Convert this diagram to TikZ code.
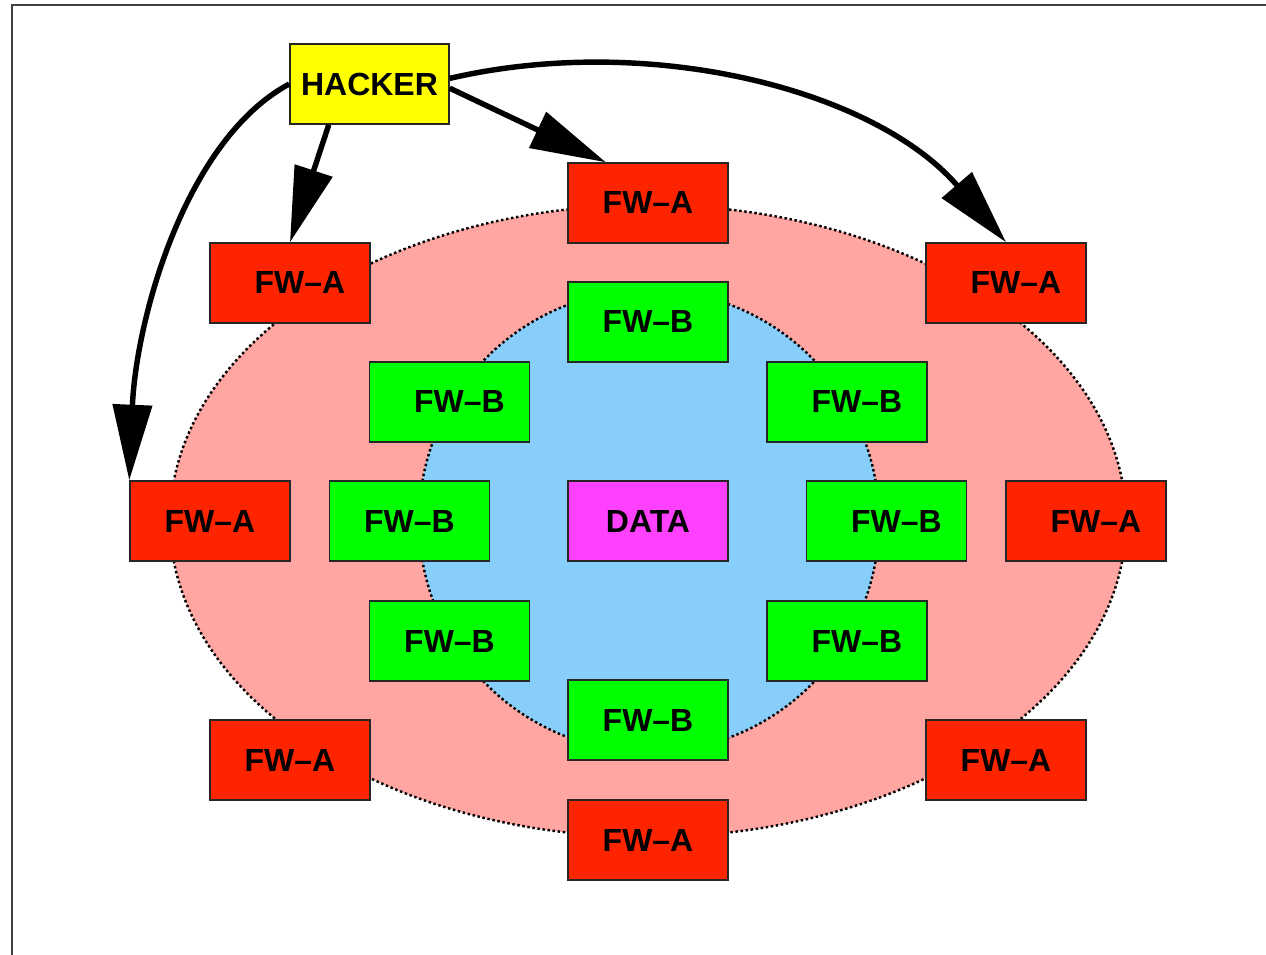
\documentclass[tikz,border=0pt]{standalone}
\usepackage{fontspec}
\setmainfont{Liberation Sans}
\usetikzlibrary{arrows.meta}

\definecolor{fwared}{RGB}{255,36,0}
\definecolor{fwbgreen}{RGB}{0,255,0}
\definecolor{hackyellow}{RGB}{255,255,0}
\definecolor{datapink}{RGB}{255,64,255}
\definecolor{outerzone}{RGB}{255,166,162}
\definecolor{innerzone}{RGB}{135,206,250}

\newcommand{\nudge}{\hspace*{11.3pt}}

\tikzset{
  box/.style={draw=black!85,line width=0.85pt,minimum width=3.2cm,minimum height=1.6cm,
    inner sep=0pt,font=\bfseries\fontsize{18.2}{20}\selectfont},
  fwa/.style={box,fill=fwared},
  fwb/.style={box,fill=fwbgreen},
  zone/.style={draw=black,line width=1.4pt,dash pattern=on 1.4pt off 1.5pt},
  attack/.style={line width=3.1pt,-{Triangle[length=43pt,width=22pt]}}
}

\begin{document}
\begin{tikzpicture}[x=0.02cm,y=-0.02cm]
            \useasboundingbox (0,0) rectangle (1266,955);
            \draw[black!75,line width=0.85pt] (12,955) -- (12,5) -- (1266,5);
            % zones
            \draw[zone,fill=outerzone] (648,521) ellipse [x radius=478,y radius=316];
            \draw[zone,fill=innerzone] (649,521) ellipse [x radius=230,y radius=231];
            % outer firewalls
            \node (a0) at (648,203) [fwa] {FW--A};
            \node (a1) at (290,283) [fwa] {\nudge FW--A};
            \node (a2) at (1006,283) [fwa] {\nudge FW--A};
            \node (a3) at (210,521) [fwa] {FW--A};
            \node (a4) at (1086,521) [fwa] {\nudge FW--A};
            \node (a5) at (290,760) [fwa] {FW--A};
            \node (a6) at (1006,760) [fwa] {FW--A};
            \node (a7) at (648,840) [fwa] {FW--A};
            % inner firewalls
            \node (b0) at (648,322) [fwb] {FW--B};
            \node (b1) at (449.5,402) [fwb] {\nudge FW--B};
            \node (b2) at (847,402) [fwb] {\nudge FW--B};
            \node (b3) at (409.5,521) [fwb] {FW--B};
            \node (b4) at (886.5,521) [fwb] {\nudge FW--B};
            \node (b5) at (449.5,641) [fwb] {FW--B};
            \node (b6) at (847,641) [fwb] {\nudge FW--B};
            \node (b7) at (648,720) [fwb] {FW--B};
            \node (data) at (648,521) [box,fill=datapink] {DATA};
            \node (hacker) at (369.5,84) [box,fill=hackyellow,minimum width=3.18cm] {HACKER};
            % attacks
            \draw[attack] (hacker.225) -- (a1.north);
            \draw[attack] (hacker.-3) -- (a0.136);
            \draw[attack] (hacker.4) .. controls (650,32) and (875,90) .. (a2.north);
            \draw[attack] (hacker.west) .. controls (185,140) and (136,320) .. (a3.north west);
        \end{tikzpicture}
\end{document}
